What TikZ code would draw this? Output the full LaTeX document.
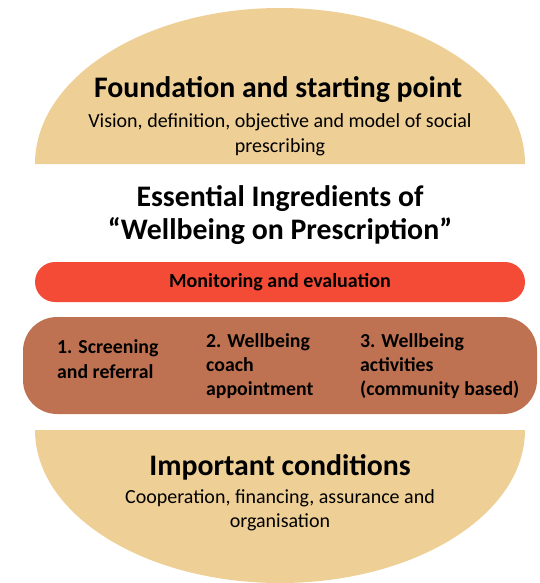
\documentclass[tikz,border=0pt]{standalone}
\usepackage{fontspec}
\setmainfont{Carlito}
\definecolor{tan}{HTML}{EECF96}
\definecolor{redbar}{HTML}{F44B36}
\definecolor{brownbar}{HTML}{BF7251}
\begin{document}
\begin{tikzpicture}[x=1pt,y=-1pt,
  title/.style={font=\fontsize{29.8}{34}\selectfont\bfseries, anchor=base, inner sep=0pt},
  sub/.style={font=\fontsize{20}{24}\selectfont, anchor=base, inner sep=0pt},
  bar/.style={font=\fontsize{20}{24}\selectfont\bfseries, anchor=base, inner sep=0pt},
  item/.style={font=\fontsize{19.8}{24}\selectfont\bfseries, anchor=base west, inner sep=0pt}]
\useasboundingbox (0,0) rectangle (540,583);
% top half ellipse
\fill[tan] (35,164) arc[start angle=180, end angle=360, x radius=245, y radius=156] -- cycle;
% bottom half ellipse
\fill[tan] (35,430) arc[start angle=180, end angle=0, x radius=245, y radius=153] -- cycle;
% bars
\fill[redbar, rounded corners=20pt] (35,262) rectangle (525,302);
\fill[brownbar, rounded corners=34pt] (23,317) rectangle (537,414);
% texts
\node[title] (t1) at (278,98) {Foundation and starting point};
\node[sub] (s1a) at (280,128) {Vision, definition, objective and model of social};
\node[sub] (s1b) at (280,152) {prescribing};
\node[title] (e1) at (280,206) {Essential Ingredients of};
\node[title] (e2) at (280,239) {“Wellbeing on Prescription”};
\node[bar] (m) at (280,287) {Monitoring and evaluation};
\node[item] (a1) at (57,353) {1. Screening};
\node[item] (a2) at (57,378) {and referral};
\node[item] (b1) at (206,347) {2. Wellbeing};
\node[item] (b2) at (206,371) {coach};
\node[item] (b3) at (206,395) {appointment};
\node[item] (c1) at (360,347) {3. Wellbeing};
\node[item] (c2) at (360,371) {activities};
\node[item] (c3) at (360,395) {(community based)};
\node[title] (i1) at (280,475) {Important conditions};
\node[sub] (i2) at (280,503) {Cooperation, financing, assurance and};
\node[sub] (i3) at (280,527) {organisation};
\end{tikzpicture}
\end{document}
